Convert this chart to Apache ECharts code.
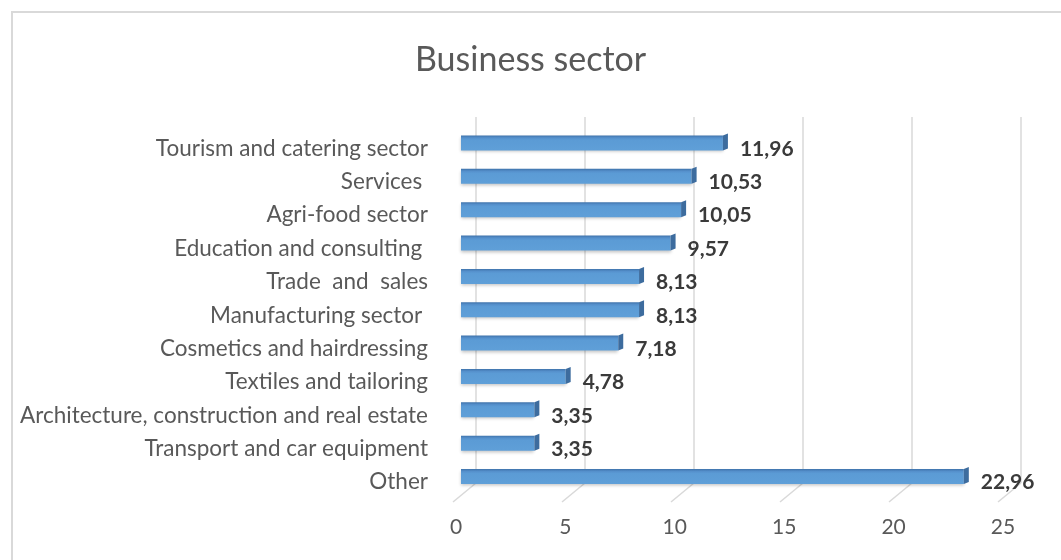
<!DOCTYPE html>
<html>
<head>
<meta charset="utf-8">
<title>Business sector</title>
<script src="https://cdn.jsdelivr.net/npm/echarts@6/dist/echarts.min.js"></script>
<style>
  html, body { margin: 0; padding: 0; background: #ffffff; }
  #chart { width: 1061px; height: 560px; }
</style>
</head>
<body>
<div id="chart"></div>
<script>
// Share of businesses per sector (%)
const sectors = [
  'Tourism and catering sector',
  'Services ',
  'Agri-food sector',
  'Education and consulting ',
  'Trade  and  sales',
  'Manufacturing sector ',
  'Cosmetics and hairdressing',
  'Textiles and tailoring',
  'Architecture, construction and real estate',
  'Transport and car equipment',
  'Other'
];
const shares = [11.96, 10.53, 10.05, 9.57, 8.13, 8.13, 7.18, 4.78, 3.35, 3.35, 22.96];
const axisTicks = [0, 5, 10, 15, 20, 25];

const FONT = 'Lato, "Open Sans", sans-serif';
const TEXT = '#595959';
const GRID_LINE = '#d9d9d9';

const chart = echarts.init(document.getElementById('chart'), null, { renderer: 'canvas' });

const option = {
  backgroundColor: '#ffffff',
  animation: false,
  title: {
    text: 'Business sector',
    left: 410,
    top: 38,
    textStyle: { fontFamily: FONT, fontSize: 34, fontWeight: 'normal', color: TEXT }
  },
  graphic: [{
    type: 'rect',
    silent: true,
    shape: { x: 12, y: 12, width: 1100, height: 600 },
    style: { fill: 'none', stroke: GRID_LINE, lineWidth: 2 }
  }],
  grid: [
    // back wall: vertical gridlines
    { left: 476, right: 40, top: 117, bottom: 77 },
    // bars
    { left: 461, right: 52.5, top: 126.3, bottom: 66.8 },
    // front edge: tick labels
    { left: 456, right: 58, top: 117, bottom: 55 }
  ],
  xAxis: [
    {
      gridIndex: 0, type: 'value', min: 0, max: 25, interval: 5,
      axisLine: { show: false }, axisTick: { show: false }, axisLabel: { show: false },
      splitLine: { show: true, lineStyle: { color: GRID_LINE, width: 1.5 } }
    },
    {
      gridIndex: 1, type: 'value', min: 0, max: 25, interval: 5, show: false
    },
    {
      gridIndex: 2, type: 'value', min: 0, max: 25, interval: 5,
      axisLine: { show: false }, axisTick: { show: false }, splitLine: { show: false },
      axisLabel: { margin: 12, color: TEXT, fontFamily: FONT, fontSize: 21 }
    }
  ],
  yAxis: [
    { gridIndex: 0, type: 'value', min: 0, max: 1, show: false },
    {
      gridIndex: 1, type: 'category', data: sectors, inverse: true,
      axisLine: { show: false }, axisTick: { show: false },
      axisLabel: {
        margin: 33,
        formatter: v => '{s|' + v + '}',
        rich: {
          s: { color: TEXT, fontFamily: FONT, fontSize: 22.5, padding: [11, 0, 0, 0] }
        }
      }
    },
    { gridIndex: 2, type: 'value', min: 0, max: 1, show: false }
  ],
  series: [
    {
      // floor lines running from the back wall toward the tick labels
      type: 'custom',
      xAxisIndex: 0, yAxisIndex: 0,
      silent: true,
      data: axisTicks.map(v => [v, 0]),
      renderItem: function (params, api) {
        const p = api.coord([api.value(0), 0]);
        return {
          type: 'line',
          shape: { x1: p[0], y1: p[1], x2: p[0] - 23, y2: p[1] + 19 },
          style: { stroke: GRID_LINE, lineWidth: 1.5 }
        };
      }
    },
    {
      type: 'bar',
      xAxisIndex: 1, yAxisIndex: 1,
      data: shares,
      barWidth: 15,
      z: 3,
      itemStyle: {
        color: new echarts.graphic.LinearGradient(0, 0, 0, 1, [
          { offset: 0, color: '#3f73ab' },
          { offset: 0.16, color: '#5590cc' },
          { offset: 0.3, color: '#5b9bd5' },
          { offset: 1, color: '#5f9fd8' }
        ]),
        shadowColor: 'rgba(0,0,0,0.22)',
        shadowBlur: 3,
        shadowOffsetY: 2
      },
      label: {
        show: true,
        position: 'right',
        distance: 17,
        offset: [0, 6],
        fontFamily: FONT,
        fontSize: 21,
        fontWeight: 'bold',
        color: '#3a3a3a',
        formatter: p => String(p.value).replace('.', ',')
      }
    },
    {
      // darker end face of each bar
      type: 'custom',
      xAxisIndex: 1, yAxisIndex: 1,
      silent: true,
      z: 4,
      data: shares.map((v, i) => [v, i]),
      renderItem: function (params, api) {
        const end = api.coord([api.value(0), api.value(1)]);
        const h = 15;
        const top = end[1] - h / 2;
        const bot = end[1] + h / 2;
        return {
          type: 'polygon',
          shape: {
            points: [
              [end[0], top],
              [end[0] + 5, top - 2],
              [end[0] + 5, bot - 2],
              [end[0], bot]
            ]
          },
          style: { fill: '#3d6c9e' }
        };
      }
    }
  ]
};

chart.setOption(option);
</script>
</body>
</html>
